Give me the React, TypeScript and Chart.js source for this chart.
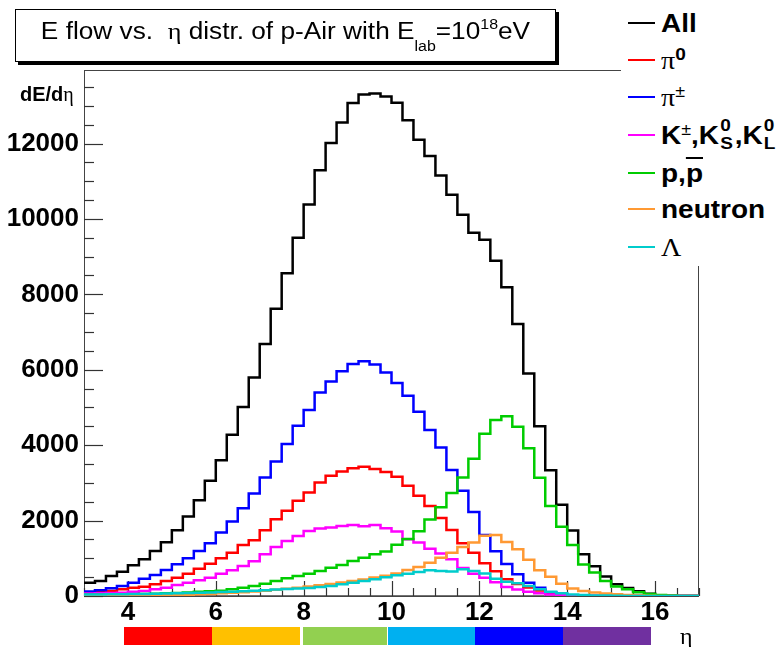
import React, { useEffect, useRef } from 'react';
import { Chart, registerables } from 'chart.js';

Chart.register(...registerables);

// ---- data ----
const binEdges = [
  3, 3.25, 3.5, 3.75, 4, 4.25, 4.5, 4.75, 5, 5.25, 5.5, 5.75, 6, 6.25, 6.5, 6.75,
  7, 7.25, 7.5, 7.75, 8, 8.25, 8.5, 8.75, 9, 9.25, 9.5, 9.75, 10, 10.25, 10.5, 10.75,
  11, 11.25, 11.5, 11.75, 12, 12.25, 12.5, 12.75, 13, 13.25, 13.5, 13.75, 14, 14.25,
  14.5, 14.75, 15, 15.25, 15.5, 15.75, 16, 16.25, 16.5, 16.75,
];
const etaMax = 17;
const xTickValues = [4, 6, 8, 10, 12, 14, 16];
const yTickValues = [0, 2000, 4000, 6000, 8000, 10000, 12000];
const yMax = 13950;

const allFlow = [
  353, 398, 531, 646, 815, 974, 1195, 1426, 1745, 2107, 2541, 3054, 3603, 4276, 5010, 5798,
  6685, 7615, 8561, 9500, 10385, 11288, 12013, 12560, 13076, 13300, 13325, 13245, 13080, 12616,
  12103, 11668, 11155, 10640, 10111, 9633, 9447, 8889, 8189, 7216, 5900, 4500, 3338, 2417,
  1740, 1107, 790, 520, 310, 210, 125, 60, 20, 5, 0, 0,
];
const pi0Flow = [
  100, 115, 133, 177, 221, 248, 310, 398, 486, 593, 726, 858, 1001, 1150, 1355, 1480,
  1745, 2037, 2258, 2523, 2744, 3010, 3187, 3302, 3391, 3426, 3365, 3290, 3160, 2922,
  2656, 2390, 2070, 1750, 1400, 1150, 870, 655, 443, 320, 225, 145, 75, 40,
  15, 5, 0, 0, 0, 0, 0, 0, 0, 0, 0, 0,
];
const piChFlow = [
  120, 151, 204, 266, 353, 460, 558, 690, 842, 1001, 1195, 1400, 1681, 1973, 2329, 2717,
  3142, 3568, 4029, 4515, 4932, 5400, 5692, 5958, 6154, 6224, 6140, 5930, 5650, 5312,
  4887, 4400, 3940, 3340, 2789, 2230, 1615, 1185, 850, 576, 350, 220, 100, 55,
  20, 8, 0, 0, 0, 0, 0, 0, 0, 0, 0, 0,
];
const kaonFlow = [
  65, 71, 80, 88, 115, 133, 177, 221, 292, 353, 416, 486, 593, 681, 797, 920,
  1107, 1301, 1461, 1594, 1726, 1788, 1815, 1859, 1886, 1850, 1886, 1800, 1709, 1506,
  1416, 1250, 1130, 974, 745, 593, 486, 365, 240, 170, 115, 70, 40, 20,
  8, 0, 0, 0, 0, 0, 0, 0, 0, 0, 0, 0,
];
const protonFlow = [
  30, 33, 36, 40, 45, 50, 60, 70, 80, 95, 110, 125, 140, 180, 220, 266,
  327, 398, 470, 531, 593, 664, 752, 823, 930, 1017, 1107, 1180, 1360, 1510,
  1715, 2030, 2355, 2730, 3142, 3640, 4300, 4666, 4770, 4489, 3920, 3135, 2390, 1837,
  1350, 833, 620, 398, 250, 177, 97, 53, 27, 10, 3, 0,
];
const neutronFlow = [
  5, 6, 8, 10, 12, 15, 18, 22, 28, 35, 45, 55, 70, 85, 100, 120,
  140, 165, 190, 220, 250, 285, 320, 360, 400, 440, 490, 540, 600, 690,
  770, 880, 1017, 1150, 1301, 1420, 1600, 1620, 1430, 1240, 960, 681, 510, 327,
  200, 133, 90, 66, 44, 25, 12, 5, 0, 0, 0, 0,
];
const lambdaFlow = [
  40, 42, 45, 48, 52, 56, 60, 66, 72, 80, 88, 96, 105, 115, 125, 140,
  155, 170, 185, 200, 215, 240, 266, 310, 353, 400, 443, 495, 549, 590,
  637, 681, 664, 650, 710, 660, 600, 460, 380, 340, 266, 177, 115, 70,
  40, 25, 15, 10, 5, 3, 0, 0, 0, 0, 0, 0,
];

const seriesNames = ['All', 'pi0', 'pi+-', 'K', 'p', 'neutron', 'Lambda'];
const seriesValues = [allFlow, pi0Flow, piChFlow, kaonFlow, protonFlow, neutronFlow, lambdaFlow];
const seriesColors = ['#000000', '#ff0000', '#0000ff', '#ff00ff', '#00cc00', '#ff9933', '#00cccc'];

const barColors = ['#ff0000', '#ffc000', '#92d050', '#00b0f0', '#0000ff', '#7030a0'];
const barEdges = [4, 6, 8, 10, 12, 14, 16];

function histPoints(vals: number[]) {
  const pts = binEdges.map((x, i) => ({ x, y: vals[i] }));
  pts.push({ x: etaMax, y: vals[vals.length - 1] });
  return pts;
}

const axesPlugin = {
  id: 'rootAxes',
  beforeDatasetsDraw(chart: any) {
    const { ctx, chartArea: a, scales } = chart;
    const xs = scales.x;
    const ys = scales.y;
    ctx.save();
    ctx.strokeStyle = '#444';
    ctx.lineWidth = 1;
    ctx.strokeRect(a.left + 0.5, a.top + 0.5, a.right - a.left - 1, a.bottom - a.top);
    ctx.lineWidth = 1.5;
    ctx.beginPath();
    ctx.moveTo(a.left, a.bottom);
    ctx.lineTo(a.right, a.bottom);
    ctx.stroke();
    ctx.lineWidth = 1.2;
    ctx.strokeStyle = '#333';
    for (let v = 3; v <= 17.001; v += 0.5) {
      const px = Math.round(xs.getPixelForValue(v)) + 0.5;
      const major = Math.abs(v / 2 - Math.round(v / 2)) < 1e-6;
      const len = major ? 15 : 8;
      ctx.beginPath();
      ctx.moveTo(px, a.bottom);
      ctx.lineTo(px, a.bottom - len);
      ctx.stroke();
    }
    for (let v = 0; v <= yMax; v += 500) {
      const py = Math.round(ys.getPixelForValue(v)) + 0.5;
      const major = v % 2000 === 0;
      const len = major ? 19 : 10;
      ctx.beginPath();
      ctx.moveTo(a.left, py);
      ctx.lineTo(a.left + len, py);
      ctx.stroke();
    }
    ctx.restore();
  },
};

const labelFont = { family: "'Liberation Sans', Arial, sans-serif", size: 26, weight: 'bold' as const };
const greek = "'Liberation Serif', 'DejaVu Serif', serif";
const sans = "'Liberation Sans', Arial, sans-serif";

function LegendRow({ cy, color, children }: { cy: number; color: string; children: React.ReactNode }) {
  return (
    <>
      <div style={{ position: 'absolute', left: 628, top: cy - 1, width: 27, height: 2, background: color }} />
      <div
        style={{
          position: 'absolute',
          left: 661,
          top: cy - 16,
          height: 32,
          lineHeight: '32px',
          fontFamily: sans,
          fontSize: 25,
          fontWeight: 'bold',
          whiteSpace: 'nowrap',
          color: '#000',
          transform: 'scaleX(1.12)',
          transformOrigin: 'left center',
        }}
      >
        {children}
      </div>
    </>
  );
}

function SupSub({ sup, sub }: { sup: string; sub: string }) {
  return (
    <span style={{ display: 'inline-block', position: 'relative', width: 14, height: 20, verticalAlign: 'middle' }}>
      <span style={{ position: 'absolute', left: 1, top: -10, fontSize: 17, lineHeight: '17px' }}>{sup}</span>
      <span style={{ position: 'absolute', left: 1, top: 8, fontSize: 17, lineHeight: '17px' }}>{sub}</span>
    </span>
  );
}

export default function App() {
  const canvasRef = useRef<HTMLCanvasElement | null>(null);

  useEffect(() => {
    if (!canvasRef.current) return;
    const datasets = seriesValues.map((vals, i) => ({
      label: seriesNames[i],
      data: histPoints(vals),
      borderColor: seriesColors[i],
      backgroundColor: seriesColors[i],
      borderWidth: 2.5,
      stepped: 'before' as const,
      pointRadius: 0,
      fill: false,
      tension: 0,
      order: seriesValues.length - i,
    }));
    const chart = new Chart(canvasRef.current, {
      type: 'line',
      data: { datasets },
      options: {
        responsive: false,
        animation: false,
        devicePixelRatio: 1,
        layout: { padding: { left: 0, right: 79, top: 70, bottom: 0 } },
        plugins: { legend: { display: false }, tooltip: { enabled: false }, title: { display: false } },
        scales: {
          x: {
            type: 'linear',
            min: 3,
            max: etaMax,
            grid: { display: false, drawTicks: false },
            border: { display: false },
            ticks: {
              font: labelFont,
              color: '#000',
              padding: 1,
              maxRotation: 0,
              autoSkip: false,
              callback: (v: any) => String(v),
            },
            afterBuildTicks: (s: any) => {
              s.ticks = xTickValues.map((v) => ({ value: v }));
            },
            afterFit: (s: any) => {
              s.height = 51;
            },
          },
          y: {
            type: 'linear',
            min: 0,
            max: yMax,
            grid: { display: false, drawTicks: false },
            border: { display: false },
            ticks: { font: labelFont, color: '#000', padding: 5, autoSkip: false, callback: (v: any) => String(v) },
            afterBuildTicks: (s: any) => {
              s.ticks = yTickValues.map((v) => ({ value: v }));
            },
            afterFit: (s: any) => {
              s.width = 84;
            },
          },
        },
      },
      plugins: [axesPlugin],
    });
    return () => chart.destroy();
  }, []);

  const xPx = (v: number) => 84 + ((v - 3) / (etaMax - 3)) * (699 - 84);

  return (
    <div style={{ position: 'fixed', left: 0, top: 0, width: 778, height: 647, background: '#fff', overflow: 'hidden' }}>
      <canvas ref={canvasRef} width={778} height={647} style={{ position: 'absolute', left: 0, top: 0 }} />

      {/* title box */}
      <div
        style={{
          position: 'absolute',
          left: 15,
          top: 9,
          width: 539,
          height: 51,
          border: '1px solid #000',
          boxShadow: '3px 3px 0 #000',
          background: '#fff',
        }}
      />
      <div
        style={{
          position: 'absolute',
          left: 15,
          top: 17,
          width: 541,
          textAlign: 'center',
          fontFamily: sans,
          fontSize: 23,
          lineHeight: '28px',
          whiteSpace: 'nowrap',
          color: '#000',
          transform: 'scaleX(1.14)',
          transformOrigin: 'center center',
        }}
      >
        E flow vs.&nbsp;&nbsp;<span style={{ fontFamily: greek }}>η</span> distr. of p-Air with E
        <span style={{ fontSize: 14, position: 'relative', top: 12 }}>lab</span>=10
        <span style={{ fontSize: 14, position: 'relative', top: -10 }}>18</span>eV
      </div>

      {/* y title */}
      <div
        style={{
          position: 'absolute',
          left: 20,
          top: 82,
          fontFamily: sans,
          fontSize: 20,
          fontWeight: 'bold',
          lineHeight: '24px',
          color: '#000',
        }}
      >
        dE/d<span style={{ fontFamily: greek, fontWeight: 'normal' }}>η</span>
      </div>

      {/* legend */}
      <div style={{ position: 'absolute', left: 621, top: 0, width: 157, height: 266, background: '#fff' }} />
      <LegendRow cy={23} color={seriesColors[0]}>All</LegendRow>
      <LegendRow cy={60} color={seriesColors[1]}>
        <span style={{ fontFamily: greek, fontWeight: 'normal' }}>π</span>
        <span style={{ fontSize: 17, position: 'relative', top: -9 }}>0</span>
      </LegendRow>
      <LegendRow cy={97} color={seriesColors[2]}>
        <span style={{ fontFamily: greek, fontWeight: 'normal' }}>π</span>
        <span style={{ fontSize: 16, fontWeight: 'normal', position: 'relative', top: -9 }}>±</span>
      </LegendRow>
      <LegendRow cy={135} color={seriesColors[3]}>
        K<span style={{ fontSize: 16, fontWeight: 'normal', position: 'relative', top: -9 }}>±</span>,K
        <SupSub sup="0" sub="S" />,K
        <SupSub sup="0" sub="L" />
      </LegendRow>
      <LegendRow cy={173} color={seriesColors[4]}>
        p,<span style={{ textDecoration: 'overline' }}>p</span>
      </LegendRow>
      <LegendRow cy={209} color={seriesColors[5]}>neutron</LegendRow>
      <LegendRow cy={247} color={seriesColors[6]}>
        <span style={{ fontFamily: greek, fontWeight: 'normal' }}>Λ</span>
      </LegendRow>

      {/* colour bar under the axis */}
      {barColors.map((c, i) => (
        <div
          key={i}
          style={{
            position: 'absolute',
            left: xPx(barEdges[i]) - 4 + (i === 2 ? 3 : 0),
            top: 627,
            width: xPx(barEdges[i + 1]) - xPx(barEdges[i]) - (i === 2 ? 3 : 0),
            height: 18,
            background: c,
          }}
        />
      ))}
      <div
        style={{
          position: 'absolute',
          left: 680,
          top: 622,
          fontFamily: greek,
          fontSize: 24,
          lineHeight: '28px',
          color: '#000',
        }}
      >
        η
      </div>
    </div>
  );
}
